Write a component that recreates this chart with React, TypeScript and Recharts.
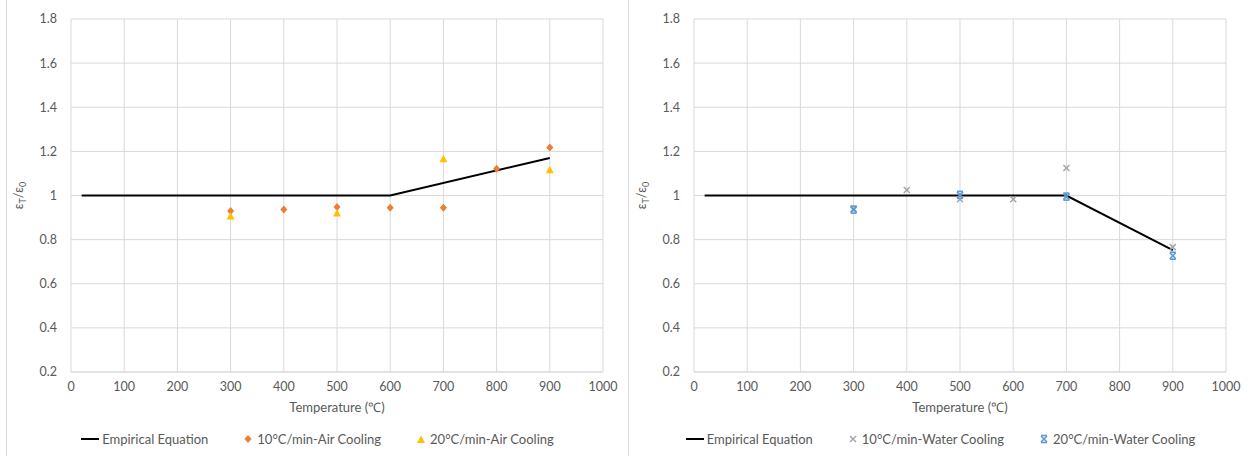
import { ScatterChart, Scatter, XAxis, YAxis, CartesianGrid } from 'recharts';

// temperatures (°C)
const xTicks = [0, 100, 200, 300, 400, 500, 600, 700, 800, 900, 1000];
const yTicks = [0.2, 0.4, 0.6, 0.8, 1, 1.2, 1.4, 1.6, 1.8];

// left panel: air cooling
const airEqT = [20, 600, 900];
const airEqV = [1, 1, 1.17];
const air10T = [300, 400, 500, 600, 700, 800, 900];
const air10V = [0.93, 0.936, 0.948, 0.944, 0.944, 1.121, 1.218];
const air20T = [300, 500, 700, 900];
const air20V = [0.905, 0.918, 1.164, 1.115];

// right panel: water cooling
const waterEqT = [20, 700, 900];
const waterEqV = [1, 1, 0.752];
const water10T = [300, 400, 500, 600, 700, 900];
const water10V = [0.94, 1.025, 0.983, 0.983, 1.125, 0.766];
const water20T = [300, 500, 700, 900];
const water20V = [0.936, 1.003, 0.995, 0.727];

const zip = (t: number[], v: number[]) => t.map((x, i) => ({ x, y: v[i] }));

const FONT = 'Lato, "Open Sans", sans-serif';
const TXT = '#595959';
const GRID = '#D9D9D9';
const C_ORANGE = '#ED7D31';
const C_YELLOW = '#FFC000';
const C_GRAY = '#A5A5A5';
const C_BLUE = '#5B9BD5';

const Diamond = ({ cx, cy }: any) => (
  <polygon points={`${cx},${cy - 4} ${cx + 3.5},${cy} ${cx},${cy + 4} ${cx - 3.5},${cy}`} fill={C_ORANGE} />
);
const Triangle = ({ cx, cy }: any) => (
  <polygon points={`${cx},${cy - 4.5} ${cx + 4},${cy + 3} ${cx - 4},${cy + 3}`} fill={C_YELLOW} />
);
const Cross = ({ cx, cy }: any) => (
  <g stroke={C_GRAY} strokeWidth={1.5}>
    <line x1={cx - 3} y1={cy - 3} x2={cx + 3} y2={cy + 3} />
    <line x1={cx - 3} y1={cy + 3} x2={cx + 3} y2={cy - 3} />
  </g>
);
const Star = ({ cx, cy }: any) => (
  <g stroke={C_BLUE} strokeWidth={1.6}>
    <line x1={cx - 3} y1={cy - 3} x2={cx + 3} y2={cy + 3} />
    <line x1={cx - 3} y1={cy + 3} x2={cx + 3} y2={cy - 3} />
    <line x1={cx - 3} y1={cy - 3.5} x2={cx + 3} y2={cy - 3.5} />
    <line x1={cx - 3} y1={cy + 3.5} x2={cx + 3} y2={cy + 3.5} />
  </g>
);
const NoDot = () => null;

const YLabel = ({ viewBox }: any) => {
  const x = 16;
  const y = viewBox.y + viewBox.height / 2;
  return (
    <text x={x} y={y} transform={`rotate(-90 ${x} ${y})`} textAnchor="middle" fill={TXT} fontSize={12.5} fontFamily={FONT}>
      ε<tspan fontSize={9} dy={3}>T</tspan>
      <tspan dy={-3}>/ε</tspan>
      <tspan fontSize={9} dy={3}>0</tspan>
    </text>
  );
};

const fmt = (v: number) => String(Number(v.toFixed(1)));

type Item = { label: string; marker: React.ReactNode };

const Panel = ({ eq, s1, s2, shape1, shape2, items }: any) => (
  <div style={{ position: 'relative', width: 621, height: 456, boxSizing: 'border-box' }}>
    <ScatterChart width={621} height={456} margin={{ top: 19, right: 25, bottom: 34, left: 0 }}>
      <CartesianGrid stroke={GRID} />
      <XAxis
        type="number"
        dataKey="x"
        domain={[0, 1000]}
        ticks={xTicks}
        interval={0}
        height={50}
        stroke={GRID}
        tickLine={false}
        tickSize={6}
        tickMargin={4}
        tick={{ fill: TXT, fontSize: 12.5, fontFamily: FONT }}
        label={{ value: 'Temperature (℃)', position: 'insideBottom', offset: 10, fill: TXT, fontSize: 13, fontFamily: FONT }}
      />
      <YAxis
        type="number"
        dataKey="y"
        domain={[0.2, 1.8]}
        ticks={yTicks}
        interval={0}
        width={64}
        axisLine={false}
        tickLine={false}
        tickSize={6}
        tickMargin={8}
        tickFormatter={fmt}
        tick={{ fill: TXT, fontSize: 12.5, fontFamily: FONT }}
        label={<YLabel />}
      />
      <Scatter data={eq} line={{ stroke: '#000', strokeWidth: 2 }} shape={NoDot} isAnimationActive={false} />
      <Scatter data={s1} shape={shape1} isAnimationActive={false} />
      <Scatter data={s2} shape={shape2} isAnimationActive={false} />
    </ScatterChart>
    <div
      style={{
        position: 'absolute',
        left: 0,
        right: 0,
        top: 431,
        display: 'flex',
        justifyContent: 'center',
        gap: 28,
        fontFamily: FONT,
        fontSize: 13,
        color: TXT,
      }}
    >
      {items.map((it: Item) => (
        <div key={it.label} style={{ display: 'flex', alignItems: 'center', gap: 3 }}>
          <svg width={18} height={10}>{it.marker}</svg>
          <span>{it.label}</span>
        </div>
      ))}
    </div>
  </div>
);

const lineMarker = <line x1={0} y1={5} x2={18} y2={5} stroke="#000" strokeWidth={2} />;

export default function App() {
  return (
    <div style={{ position: 'fixed', left: 0, top: 0, width: 1251, height: 456, background: '#fff', display: 'flex' }}>
      <div style={{ width: 7, height: 456, borderRight: `1px solid ${GRID}`, boxSizing: 'border-box' }} />
      <Panel
        eq={zip(airEqT, airEqV)}
        s1={zip(air10T, air10V)}
        s2={zip(air20T, air20V)}
        shape1={Diamond}
        shape2={Triangle}
        items={[
          { label: 'Empirical Equation', marker: lineMarker },
          { label: '10°C/min-Air Cooling', marker: <Diamond cx={12} cy={5} /> },
          { label: '20°C/min-Air Cooling', marker: <Triangle cx={12} cy={6} /> },
        ]}
      />
      <div style={{ width: 2, height: 456, borderLeft: `1px solid ${GRID}`, boxSizing: 'border-box' }} />
      <Panel
        eq={zip(waterEqT, waterEqV)}
        s1={zip(water10T, water10V)}
        s2={zip(water20T, water20V)}
        shape1={Cross}
        shape2={Star}
        items={[
          { label: 'Empirical Equation', marker: lineMarker },
          { label: '10°C/min-Water Cooling', marker: <Cross cx={12} cy={5} /> },
          { label: '20°C/min-Water Cooling', marker: <Star cx={12} cy={5} /> },
        ]}
      />
    </div>
  );
}
